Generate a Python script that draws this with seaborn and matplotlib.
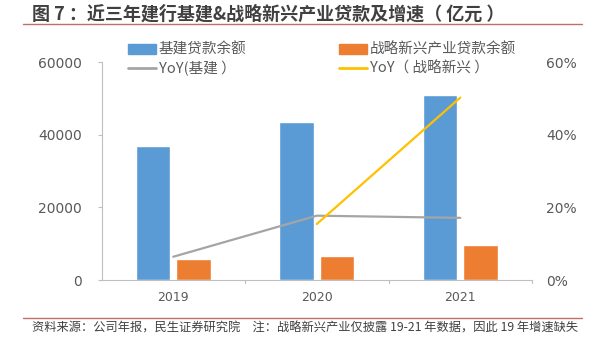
import matplotlib
matplotlib.use("Agg")
import matplotlib.pyplot as plt
import seaborn as sns
import pandas as pd
from matplotlib.patches import Patch
from matplotlib.lines import Line2D

years = ["2019", "2020", "2021"]
infra_loans = [37000, 43500, 51000]
sei_loans = [5700, 6600, 9700]
yoy_infra = [6.4, 17.7, 17.1]
yoy_sei = [None, 15.4, 50.2]

series_names = ["基建贷款余额", "战略新兴产业贷款余额"]
line_names = ["YoY(基建 ）", "YoY（ 战略新兴 ）"]
left_ticks = [0, 20000, 40000, 60000]
right_ticks = [0, 20, 40, 60]

sns.set_style("white")
plt.rcParams['font.family'] = ['Noto Sans CJK SC', 'DejaVu Sans']

BLUE = "#5B9BD5"
ORANGE = "#ED7D31"
GRAY = "#A5A5A5"
YELLOW = "#FFC000"
TXT = "#595959"

df = pd.DataFrame({
    "year": years * 2,
    "value": infra_loans + sei_loans,
    "series": [series_names[0]] * 3 + [series_names[1]] * 3,
})

fig = plt.figure(figsize=(6.09, 3.45), dpi=100)
ax = fig.add_axes([101.5 / 609, 1 - 280 / 345, (532 - 101.5) / 609, (280 - 62) / 345])

sns.barplot(data=df, x="year", y="value", hue="series", order=years,
            hue_order=series_names, palette=[BLUE, ORANGE], width=0.56, gap=0.14,
            ax=ax, legend=False, saturation=1)
ax.set_xlim(-0.5, 2.5)
ax.set_ylim(0, 60000)
ax.set_yticks(left_ticks)
ax.set_yticklabels([str(v) for v in left_ticks], family="DejaVu Sans")
ax.set_xlabel("")
ax.set_ylabel("")
ax.set_xticks([0, 1, 2])
ax.set_xticklabels(years, family="DejaVu Sans")
ax.tick_params(axis="x", length=0, pad=8, labelsize=9, colors=TXT)
ax.tick_params(axis="y", length=3, width=0.8, color="#BFBFBF", direction="out",
               pad=11, labelsize=10, labelcolor=TXT)
for s in ["top", "right"]:
    ax.spines[s].set_visible(False)
ax.spines["left"].set_color("#BFBFBF")
ax.spines["bottom"].set_color("#BFBFBF")
ax.spines["left"].set_linewidth(0.8)
ax.spines["bottom"].set_linewidth(0.8)
# category boundary ticks
for xb in [0.5, 1.5, 2.5]:
    ax.plot([xb, xb], [0, -0.012], transform=ax.get_xaxis_transform(),
            color="#BFBFBF", lw=0.8, clip_on=False)

ax2 = ax.twinx()
ldf = pd.DataFrame({"x": [0, 1, 2], "yi": yoy_infra,
                    "ys": [v if v is not None else float("nan") for v in yoy_sei]})
sns.lineplot(data=ldf, x="x", y="yi", color=GRAY, lw=1.6, ax=ax2)
sns.lineplot(data=ldf.dropna(), x="x", y="ys", color=YELLOW, lw=1.6, ax=ax2)
ax2.set_ylim(0, 60)
ax2.set_yticks(right_ticks)
ax2.set_yticklabels([f"{v}%" for v in right_ticks], family="DejaVu Sans")
ax2.set_xlim(-0.5, 2.5)
ax2.set_xlabel("")
ax2.set_ylabel("")
ax2.tick_params(axis="y", length=0, pad=10, labelsize=10, labelcolor=TXT)
for s in ["top", "right", "left", "bottom"]:
    ax2.spines[s].set_visible(False)

# legend: one entry per legend, placed by row centre
entries = [
    (Patch(color=BLUE, label=series_names[0]), 128, 50),
    (Line2D([], [], color=GRAY, lw=2, label=line_names[0]), 128, 68.5),
    (Patch(color=ORANGE, label=series_names[1]), 339, 50),
    (Line2D([], [], color=YELLOW, lw=2, label=line_names[1]), 339, 68.5),
]
for h, x0, yc in entries:
    fig.legend(handles=[h], loc="center left", bbox_to_anchor=(x0 / 609, 1 - yc / 345),
               frameon=False, fontsize=10.5, handlelength=1.95, handleheight=0.6,
               handletextpad=0.15, borderpad=0, borderaxespad=0, labelcolor=TXT)

# title and footer
fig.text(32 / 609, 1 - 14 / 345, "图 7 ：近三年建行基建&战略新兴产业贷款及增速（ 亿元 ）",
         fontsize=13, fontweight="bold", color="#404040", va="center", ha="left")
fig.add_artist(Line2D([23 / 609, 582 / 609], [1 - 23.5 / 345, 1 - 23.5 / 345],
                      color="#C0706B", lw=1))
fig.add_artist(Line2D([23 / 609, 582 / 609], [1 - 317.5 / 345, 1 - 317.5 / 345],
                      color="#C0706B", lw=1))
fig.text(32 / 609, 1 - 328 / 345,
         "资料来源：公司年报，民生证券研究院　注：战略新兴产业仅披露 19-21 年数据，因此 19 年增速缺失",
         fontsize=8.8, color="#404040", va="center", ha="left")

fig.savefig("out.png", dpi=100)
